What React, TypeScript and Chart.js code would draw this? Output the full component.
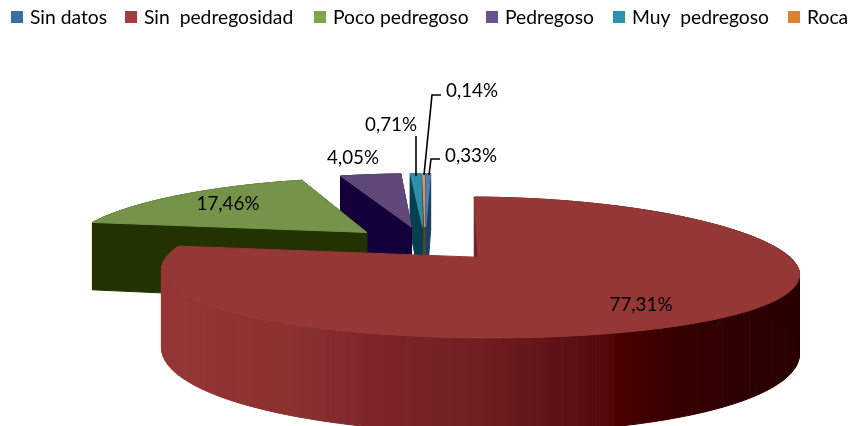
import React, { useEffect, useRef } from "react";
import { Chart, registerables } from "chart.js";

Chart.register(...registerables);

const categories = ["Sin datos", "Sin  pedregosidad", "Poco pedregoso", "Pedregoso", "Muy  pedregoso", "Roca"];
const values = [0.33, 77.31, 17.46, 4.05, 0.71, 0.14];
const legendColors = ["#3a6fa5", "#a83b3b", "#7ea34b", "#68528f", "#2a94ad", "#de8136"];
const legendBoxX = [11, 125, 314, 486, 613, 788];
const topColors = ["#4a7eb5", "#953735", "#76934a", "#60497a", "#2f8fa8", "#c89a7a"];
const sideColors = ["#1c3f63", "#5a1010", "#233300", "#14003a", "#063f4f", "#6a4020"];
const labelAnchors: [number, number][] = [[471, 156], [641, 305], [228, 204], [353, 158], [391, 125], [472, 91]];
const leaders: [number, number][][] = [
  [[429, 175], [431, 159], [440, 159]],
  [],
  [],
  [],
  [[416, 136], [416, 176]],
  [[424, 175], [432, 95], [441, 95]],
];
const paintOrder = [0, 5, 4, 3, 2, 1];
const wallStops: [number, number[]][] = [
  [160, [0x95, 0x37, 0x35]],
  [300, [0x8a, 0x30, 0x30]],
  [390, [0x7a, 0x24, 0x28]],
  [480, [0x70, 0x1f, 0x22]],
  [600, [0x56, 0x0a, 0x10]],
  [620, [0x4a, 0x00, 0x00]],
  [680, [0x35, 0x00, 0x00]],
  [795, [0x2a, 0x00, 0x00]],
];

const CX = 425, CY = 243.5, RX = 299, RY = 65, DEPTH = 72;
const KX = 0.2, KY = 0.141, KZ = 0.2;

function project(u: number, v: number, z: number): [number, number] {
  return [CX + (u * RX) / (1 - KX * v), CY + (v * RY) / (1 - KY * v) + (z * DEPTH) / (1 - KZ * v)];
}

function wallColor(x: number) {
  let a = wallStops[0], b = wallStops[wallStops.length - 1];
  if (x <= a[0]) return `rgb(${a[1].join(",")})`;
  if (x >= b[0]) return `rgb(${b[1].join(",")})`;
  for (let i = 0; i < wallStops.length - 1; i++) {
    if (x >= wallStops[i][0] && x <= wallStops[i + 1][0]) {
      a = wallStops[i];
      b = wallStops[i + 1];
      break;
    }
  }
  const t = (x - a[0]) / (b[0] - a[0]);
  return `rgb(${a[1].map((c, i) => Math.round(c + (b[1][i] - c) * t)).join(",")})`;
}

function poly(ctx: CanvasRenderingContext2D, pts: [number, number][], fill: string) {
  ctx.beginPath();
  pts.forEach((p, i) => (i ? ctx.lineTo(p[0], p[1]) : ctx.moveTo(p[0], p[1])));
  ctx.closePath();
  ctx.fillStyle = fill;
  ctx.strokeStyle = fill;
  ctx.lineWidth = 1;
  ctx.fill();
  ctx.stroke();
}

const pie3d = {
  id: "pie3d",
  beforeDatasetsDraw(chart: any) {
    const ctx: CanvasRenderingContext2D = chart.ctx;
    const arcs = chart.getDatasetMeta(0).data;
    ctx.save();
    for (const idx of paintOrder) {
      const arc = arcs[idx];
      const { startAngle, endAngle, outerRadius } = arc.getProps(["startAngle", "endAngle", "outerRadius"], true);
      const ratio = arc.options.offset / outerRadius;
      const mid = (startAngle + endAngle) / 2;
      const ou = Math.cos(mid) * ratio;
      const ov = Math.sin(mid) * ratio;
      const steps = Math.max(2, Math.ceil((endAngle - startAngle) / 0.02));
      const rim: [number, number][] = [];
      for (let i = 0; i <= steps; i++) {
        const a = startAngle + ((endAngle - startAngle) * i) / steps;
        rim.push([ou + Math.cos(a), ov + Math.sin(a)]);
      }
      const side = idx === 1 ? null : sideColors[idx];
      const quads: number[] = rim.slice(0, -1).map((_, i) => i);
      quads.sort((a, b) => rim[a][1] - rim[b][1]);
      for (const i of quads) {
        const p = rim[i], q = rim[i + 1];
        const a = project(p[0], p[1], 0), b = project(q[0], q[1], 0);
        const c = project(q[0], q[1], 1), d = project(p[0], p[1], 1);
        poly(ctx, [a, b, c, d], side ?? wallColor((a[0] + b[0]) / 2));
      }
      const apexT = project(ou, ov, 0), apexB = project(ou, ov, 1);
      const first = rim[0], last = rim[rim.length - 1];
      if (idx !== 1) {
        const cutColor = sideColors[idx];
        poly(ctx, [apexT, project(first[0], first[1], 0), project(first[0], first[1], 1), apexB], cutColor);
        poly(ctx, [apexT, project(last[0], last[1], 0), project(last[0], last[1], 1), apexB], cutColor);
      }
      poly(ctx, [apexT, ...rim.map((p) => project(p[0], p[1], 0))], topColors[idx]);
    }
    ctx.strokeStyle = "#000";
    ctx.lineWidth = 1.6;
    for (const line of leaders) {
      if (!line.length) continue;
      ctx.beginPath();
      line.forEach((p, i) => (i ? ctx.lineTo(p[0], p[1]) : ctx.moveTo(p[0], p[1])));
      ctx.stroke();
    }
    ctx.fillStyle = "#000";
    ctx.font = "18.8px Lato";
    ctx.textAlign = "center";
    ctx.textBaseline = "middle";
    values.forEach((v, i) => {
      ctx.fillText(v.toFixed(2).replace(".", ",") + "%", labelAnchors[i][0], labelAnchors[i][1]);
    });
    ctx.font = "19.3px Lato";
    ctx.textAlign = "left";
    categories.forEach((name, i) => {
      ctx.fillStyle = legendColors[i];
      ctx.fillRect(legendBoxX[i], 11, 12, 12);
      ctx.fillStyle = "#000";
      ctx.fillText(name, legendBoxX[i] + 19, 18);
    });
    ctx.restore();
    return false;
  },
};

export default function App() {
  const ref = useRef<HTMLCanvasElement>(null);
  useEffect(() => {
    const chart = new Chart(ref.current!, {
      type: "pie",
      data: {
        labels: categories,
        datasets: [{ data: values, backgroundColor: legendColors, borderWidth: 0, radius: 150, offset: 40 }],
      } as any,
      options: {
        responsive: false,
        animation: false,
        layout: { padding: 0 },
        plugins: {
          tooltip: { enabled: false },
          legend: { display: false },
        },
      },
      plugins: [pie3d],
    } as any);
    return () => chart.destroy();
  }, []);
  return (
    <canvas
      ref={ref}
      width={851}
      height={426}
      style={{ position: "fixed", left: 0, top: 0, width: 851, height: 426 }}
    />
  );
}
